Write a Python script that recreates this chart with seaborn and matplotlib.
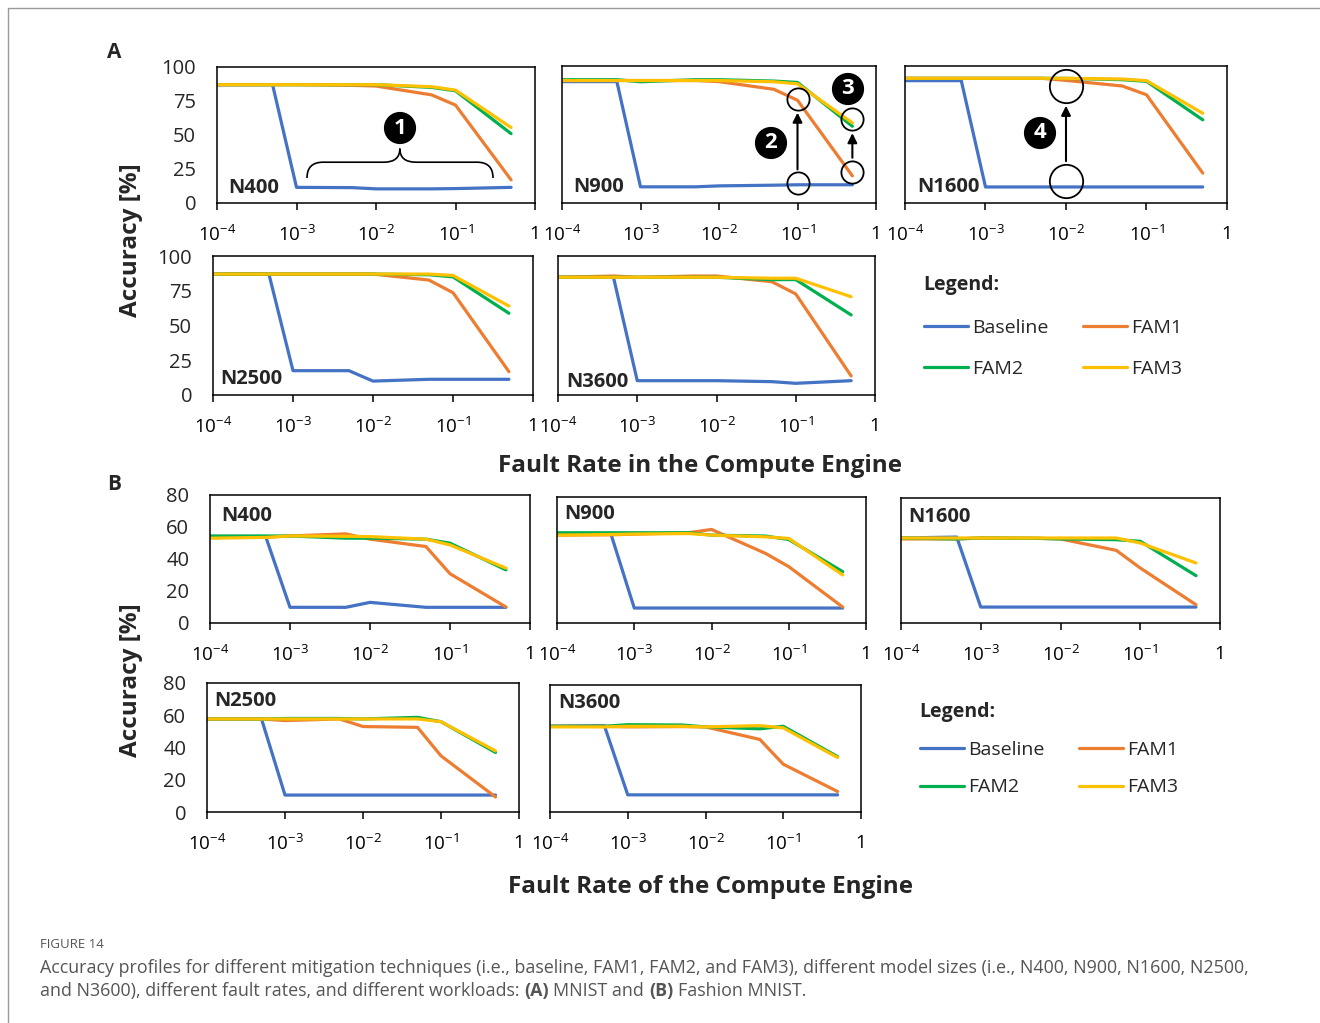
import numpy as np
import pandas as pd
import seaborn as sns
import matplotlib.pyplot as plt
from matplotlib.lines import Line2D
from matplotlib.path import Path
from matplotlib.patches import PathPatch

sns.set_style('white')
plt.rcParams['font.family'] = ['Open Sans', 'DejaVu Sans']
plt.rcParams['mathtext.fontset'] = 'custom'
plt.rcParams['mathtext.rm'] = 'Open Sans'

# fault rates on the x axis
rates = [1e-4, 5e-4, 1e-3, 5e-3, 1e-2, 5e-2, 1e-1, 5e-1]
techniques = ['Baseline', 'FAM1', 'FAM2', 'FAM3']
colors = {'Baseline': '#4472C4', 'FAM1': '#ED7D31', 'FAM2': '#00B050', 'FAM3': '#FFC000'}

# (A) MNIST
mnist_n400 = {'Baseline': [87, 87, 11.5, 11.3, 10.4, 10.4, 10.6, 11.5],
              'FAM1': [87, 87, 87, 86.5, 86, 79.5, 72, 17],
              'FAM2': [87, 87, 87, 87, 87, 85, 82.5, 51],
              'FAM3': [87, 87, 87, 87, 87, 85.5, 83, 55.5]}
mnist_n900 = {'Baseline': [88.6, 88.6, 11.8, 11.8, 12.5, 13, 13.3, 13.3],
              'FAM1': [89.4, 89.4, 89.4, 89.4, 88.6, 83, 75, 19.8],
              'FAM2': [90, 90, 88.5, 90, 90, 89, 88, 56],
              'FAM3': [89.4, 89.4, 89.4, 89.4, 89.4, 88.5, 87, 58.5]}
mnist_n1600 = {'Baseline': [89.3, 89.3, 11.7, 11.7, 11.7, 11.7, 11.7, 11.7],
               'FAM1': [91, 91, 91, 91, 89.5, 85.4, 79, 21.8],
               'FAM2': [91, 91, 91, 91, 91, 90, 88.8, 60.7],
               'FAM3': [91, 91, 91, 91, 91, 90.5, 89.3, 65.5]}
mnist_n2500 = {'Baseline': [87, 87, 17.5, 17.5, 10, 11.3, 11.3, 11.3],
               'FAM1': [87, 87, 87, 87, 87, 82.7, 73.6, 16.8],
               'FAM2': [87, 87, 87, 87, 87, 86.5, 85, 58.8],
               'FAM3': [87, 87, 87, 87, 87, 87, 86, 64]}
mnist_n3600 = {'Baseline': [84.7, 85, 10.3, 10.3, 10.3, 9.6, 8.4, 10.3],
               'FAM1': [84.7, 85.6, 84.7, 85.6, 85.6, 81.5, 72.7, 13.7],
               'FAM2': [84.7, 84.7, 84.7, 84.7, 84.7, 83, 83, 57.6],
               'FAM3': [84.7, 84.7, 84.7, 84.7, 84.7, 84, 84, 70.7]}

# (B) Fashion MNIST
fashion_n400 = {'Baseline': [53.6, 53.6, 9.8, 9.8, 12.9, 9.8, 9.8, 9.8],
                'FAM1': [53.6, 53.6, 54.4, 55.7, 52.4, 47.8, 30.8, 10],
                'FAM2': [54.4, 54.4, 54.4, 53, 53, 52.4, 49.9, 33.2],
                'FAM3': [53, 53.5, 54.4, 54.2, 54, 52.4, 48.8, 34.3]}
fashion_n900 = {'Baseline': [56.8, 56.4, 9.5, 9.5, 9.5, 9.5, 9.5, 9.5],
                'FAM1': [55.8, 56, 56.4, 57.3, 59.4, 44.2, 35.8, 10.1],
                'FAM2': [57.3, 57.3, 57.3, 57.3, 55.8, 55.2, 53, 32.6],
                'FAM3': [55.8, 56.2, 56.5, 56.8, 55.8, 54.7, 53.7, 30.5]}
fashion_n1600 = {'Baseline': [54.4, 55, 10.2, 10.2, 10.2, 10.2, 10.2, 10.2],
                 'FAM1': [53.8, 53.8, 54.4, 54.2, 53.8, 46.5, 35.2, 11.7],
                 'FAM2': [54.4, 53.8, 54.4, 54.2, 53.8, 53.3, 52.3, 30.3],
                 'FAM3': [54.4, 54.4, 54.4, 54.4, 54.4, 54.4, 51.2, 38.4]}
fashion_n2500 = {'Baseline': [57.7, 57.7, 10.5, 10.5, 10.5, 10.5, 10.5, 10.5],
                 'FAM1': [57.7, 57.7, 56.7, 57.7, 53, 52.5, 34.8, 9.3],
                 'FAM2': [57.7, 57.7, 58, 58, 57.7, 58.7, 56, 36.9],
                 'FAM3': [57.7, 57.7, 57.7, 57.7, 57.7, 57.7, 56, 37.9]}
fashion_n3600 = {'Baseline': [54, 54.4, 10.8, 10.8, 10.8, 10.8, 10.8, 10.8],
                 'FAM1': [54, 54, 53.6, 53.8, 53.6, 45.7, 30.1, 12.9],
                 'FAM2': [54, 54, 55, 54.8, 53.6, 52.4, 54, 34.9],
                 'FAM3': [53.6, 53.6, 54, 54, 53.6, 54.4, 53, 34.3]}

W, H = 1320, 1023
fig = plt.figure(figsize=(W / 100, H / 100), dpi=100)


def px_axes(l, t, r, b):
    return fig.add_axes([l / W, 1 - b / H, (r - l) / W, (b - t) / H])


def draw_panel(box, data, name, name_pos, ymax, yticks, show_y):
    ax = px_axes(*box)
    df = pd.DataFrame([(r, tech, v) for tech in techniques
                       for r, v in zip(rates, data[tech])],
                      columns=['rate', 'tech', 'acc'])
    sns.lineplot(data=df, x='rate', y='acc', hue='tech', hue_order=techniques,
                 palette=colors, linewidth=2.3, errorbar=None, legend=False, ax=ax)
    ax.set_xscale('log')
    ax.set_xlim(1e-4, 1)
    ax.set_ylim(0, ymax)
    ax.set_xticks([1e-4, 1e-3, 1e-2, 1e-1, 1])
    ax.set_xticklabels([r'$\mathregular{10^{-4}}$', r'$\mathregular{10^{-3}}$',
                        r'$\mathregular{10^{-2}}$', r'$\mathregular{10^{-1}}$', '1'])
    ax.minorticks_off()
    ax.set_yticks(yticks)
    ax.set_xlabel('')
    ax.set_ylabel('')
    ax.tick_params(axis='x', direction='out', length=5, width=1.1, pad=11,
                   labelsize=13.5, bottom=True, colors='black')
    ax.tick_params(axis='y', length=0, pad=15, labelsize=14.5, labelleft=show_y)
    for s in ax.spines.values():
        s.set_color('black')
        s.set_linewidth(1.1)
    ax.text(name_pos[0], name_pos[1], name, transform=ax.transAxes,
            fontsize=14.5, fontweight='bold', va='center', ha='left')
    return ax


# panel A
ticks_a = [0, 25, 50, 75, 100]
a1 = draw_panel((217, 67, 535, 203), mnist_n400, 'N400', (0.035, 0.11), 100, ticks_a, True)
a2 = draw_panel((562, 66, 876, 203), mnist_n900, 'N900', (0.035, 0.12), 100, ticks_a, False)
a3 = draw_panel((905, 66, 1227, 203), mnist_n1600, 'N1600', (0.037, 0.12), 100, ticks_a, False)
a4 = draw_panel((213, 256, 533, 395), mnist_n2500, 'N2500', (0.022, 0.115), 100, ticks_a, True)
a5 = draw_panel((558, 256, 875, 395), mnist_n3600, 'N3600', (0.025, 0.095), 100, ticks_a, False)

# panel B
ticks_b = [0, 20, 40, 60, 80]
b1 = draw_panel((210, 495, 530, 623), fashion_n400, 'N400', (0.034, 0.836), 80, ticks_b, True)
b2 = draw_panel((557, 497, 866, 623), fashion_n900, 'N900', (0.023, 0.865), 80, ticks_b, False)
b3 = draw_panel((901, 498, 1220, 623), fashion_n1600, 'N1600', (0.022, 0.85), 80, ticks_b, False)
b4 = draw_panel((207, 683, 519, 812), fashion_n2500, 'N2500', (0.022, 0.86), 80, ticks_b, True)
b5 = draw_panel((550, 685, 861, 812), fashion_n3600, 'N3600', (0.026, 0.86), 80, ticks_b, False)


def ftext(x, y, s, **kw):
    return fig.text(x / W, 1 - y / H, s, **kw)


# panel letters and axis titles
ftext(114, 52, 'A', fontsize=15, fontweight='bold', ha='center', va='center')
ftext(114, 485, 'B', fontsize=15, fontweight='bold', ha='center', va='center')
ftext(131, 240, 'Accuracy [%]', fontsize=17.5, fontweight='bold', rotation=90,
      ha='center', va='center')
ftext(131, 680, 'Accuracy [%]', fontsize=17.5, fontweight='bold', rotation=90,
      ha='center', va='center')
ftext(700, 466, 'Fault Rate in the Compute Engine', fontsize=17.5, fontweight='bold',
      ha='center', va='center')
ftext(710, 887, 'Fault Rate of the Compute Engine', fontsize=17.5, fontweight='bold',
      ha='center', va='center')

# legends
handles = [Line2D([], [], color=colors[t], lw=2.3) for t in techniques]
order = [0, 2, 1, 3]
for (lx, ly, lsp) in [(906, 258, 1.2), (902, 684, 1.0)]:
    fig.legend([handles[i] for i in order], [techniques[i] for i in order],
               ncol=2, loc='upper left', bbox_to_anchor=(lx / W, 1 - ly / H),
               frameon=False, title='Legend:', alignment='left',
               title_fontproperties={'weight': 'bold', 'size': 14},
               fontsize=14, handlelength=2.3, handletextpad=0.2,
               columnspacing=1.75, labelspacing=lsp)


# annotations on MNIST panels
def badge(x, y, s):
    ftext(x, y, s, fontsize=16, fontweight='bold', color='white', ha='center',
          va='center', bbox=dict(boxstyle='circle,pad=0.22', fc='black', ec='black'))


# curly brace in N400
x0, x1, xt = 0.283, 0.868, 0.575
ye, ym, yt, d = 0.184, 0.30, 0.40, 0.05
verts = [(x0, ye), (x0, ym), (x0 + d, ym), (xt - d, ym), (xt, ym), (xt, yt),
         (xt, ym), (xt + d, ym), (x1 - d, ym), (x1, ym), (x1, ye)]
codes = [Path.MOVETO, Path.CURVE3, Path.CURVE3, Path.LINETO, Path.CURVE3, Path.CURVE3,
         Path.CURVE3, Path.CURVE3, Path.LINETO, Path.CURVE3, Path.CURVE3]
a1.add_patch(PathPatch(Path(verts, codes), transform=a1.transAxes, fc='none',
                       ec='black', lw=1.2))
badge(400, 128, '1')

# circles and arrows in N900
for (cx, cy) in [(0.1, 76), (0.1, 14.6), (0.5, 61), (0.5, 22.6)]:
    a2.plot([cx], [cy], marker='o', ms=16, mfc='none', mec='black', mew=1.3)
a2.annotate('', xy=(0.1, 68), xytext=(0.1, 22.5),
            arrowprops=dict(arrowstyle='-|>', color='black', lw=1.5, mutation_scale=14))
a2.annotate('', xy=(0.5, 53), xytext=(0.5, 31),
            arrowprops=dict(arrowstyle='-|>', color='black', lw=1.5, mutation_scale=14))
badge(771, 143, '2')
badge(848, 89, '3')

# circles and arrow in N1600
for (cx, cy) in [(0.01, 85.4), (0.01, 16)]:
    a3.plot([cx], [cy], marker='o', ms=24, mfc='none', mec='black', mew=1.3)
a3.annotate('', xy=(0.01, 73), xytext=(0.01, 28.5),
            arrowprops=dict(arrowstyle='-|>', color='black', lw=1.5, mutation_scale=14))
badge(1040, 133, '4')

# frame and caption
fig.add_artist(Line2D([8 / W, 8 / W, 1], [0, 1 - 8 / H, 1 - 8 / H],
                      transform=fig.transFigure, color='#9a9a9a', lw=1))
cap = dict(fontsize=12.9, color='#555555', family=['Open Sans'], ha='left', va='center')
ftext(40, 944, 'FIGURE 14', **{**cap, 'fontsize': 9.5})
ftext(40, 968, 'Accuracy profiles for different mitigation techniques (i.e., baseline, FAM1, '
      'FAM2, and FAM3), different model sizes (i.e., N400, N900, N1600, N2500,', **cap)

renderer = fig.canvas.get_renderer()


def text_width(s, weight='normal'):
    t = ftext(0, 0, s, fontweight=weight, **cap)
    w = t.get_window_extent(renderer=renderer).width
    t.remove()
    return w


space_w = text_width('x x') - text_width('xx')
parts = [('and N3600), different fault rates, and different workloads:', 'normal'),
         ('(A)', 'bold'), ('MNIST and', 'normal'), ('(B)', 'bold'),
         ('Fashion MNIST.', 'normal')]
cx = 40
for s, wt in parts:
    t = ftext(cx, 991, s, fontweight=wt, **cap)
    cx += t.get_window_extent(renderer=renderer).width + space_w

fig.savefig('out.png', dpi=100)
